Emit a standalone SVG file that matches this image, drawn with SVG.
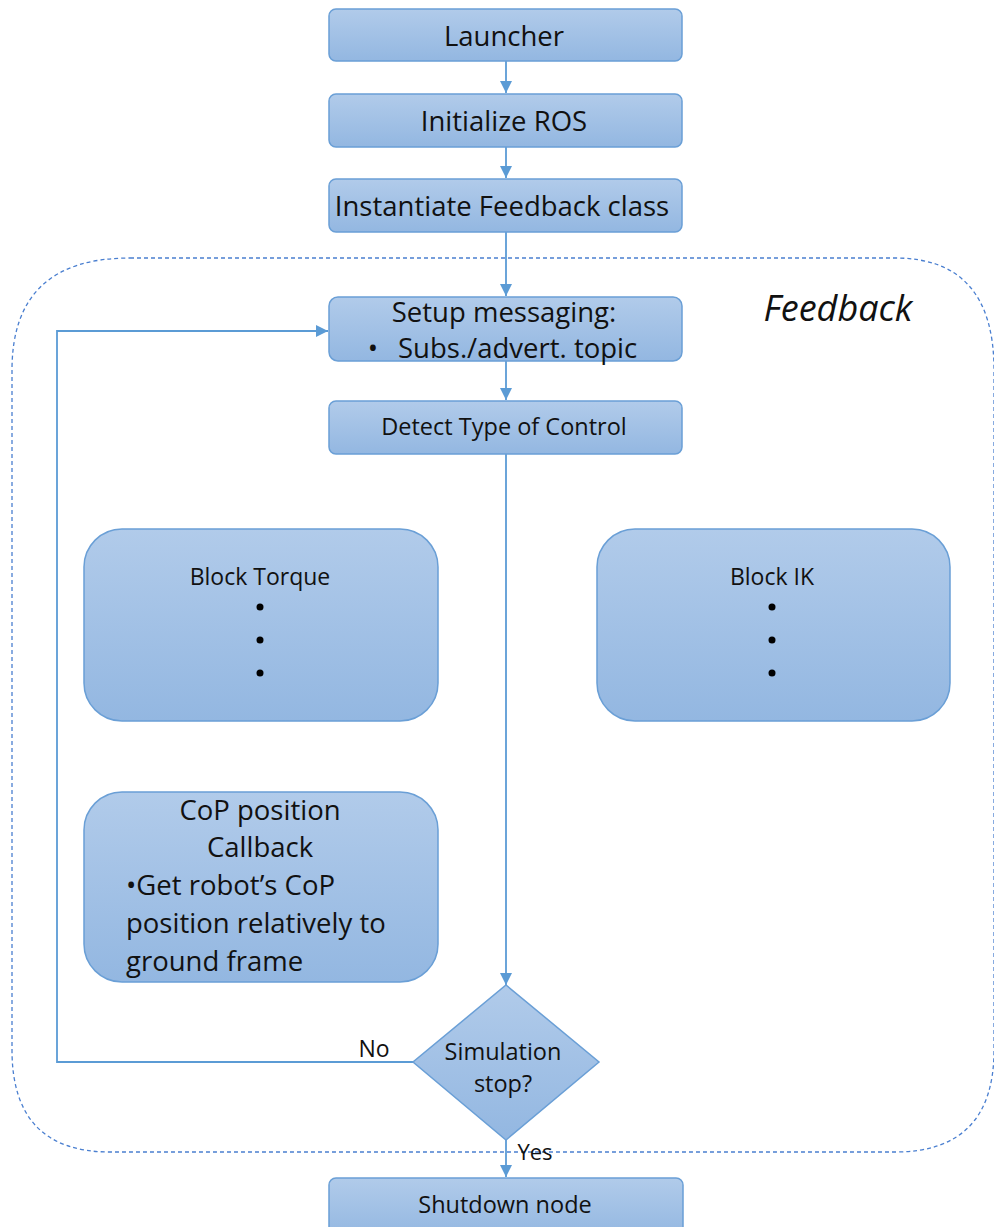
<svg xmlns="http://www.w3.org/2000/svg" width="994" height="1227" viewBox="0 0 994 1227">
<defs>
<linearGradient id="g" x1="0" y1="0" x2="0" y2="1">
<stop offset="0" stop-color="#b1cbea"/>
<stop offset="1" stop-color="#93b7e1"/>
</linearGradient>
<marker id="ah" markerWidth="12" markerHeight="12" refX="10" refY="5" orient="auto" markerUnits="userSpaceOnUse" viewBox="0 0 10 10">
<path d="M0,0 L10,5 L0,10 z" fill="#5b9bd5"/>
</marker>
<style>
.box{fill:url(#g);stroke:#6a9fd6;stroke-width:1.5}
.t{font-family:"Open Sans","Liberation Sans",sans-serif;fill:#111;text-anchor:middle}
.l{text-anchor:start}
.c{fill:none;stroke:#5b9bd5;stroke-width:1.8}
</style>
</defs>
<rect width="994" height="1227" fill="#fff"/>
<g id="feedback-region">
<path d="M130,258 H895 Q994,258 994,370 V1050 Q994,1152 895,1152 H110 Q12,1152 12,1050 V370 Q12,258 130,258 Z" fill="none" stroke="#4a7fd0" stroke-width="1.3" stroke-dasharray="4,3"/>
<text class="t" x="838" y="321" font-style="italic" font-size="36">Feedback</text>
</g>
<g id="connectors">
<line class="c" x1="506" y1="61" x2="506" y2="93" marker-end="url(#ah)"/>
<line class="c" x1="506" y1="147" x2="506" y2="178" marker-end="url(#ah)"/>
<line class="c" x1="506" y1="232" x2="506" y2="296" marker-end="url(#ah)"/>
<line class="c" x1="506" y1="361" x2="506" y2="400" marker-end="url(#ah)"/>
<line class="c" x1="506" y1="454" x2="506" y2="985" marker-end="url(#ah)"/>
<line class="c" x1="506" y1="1140" x2="506" y2="1177" marker-end="url(#ah)"/>
<polyline class="c" points="413,1062 57,1062 57,331 328,331" marker-end="url(#ah)"/>
<text class="t" x="374" y="1057" font-size="23">No</text>
<text class="t" x="535" y="1160" font-size="22">Yes</text>
</g>
<g id="launcher">
<rect class="box" x="329" y="9" width="353" height="52" rx="7"/>
<text class="t" x="504" y="46" font-size="27.5">Launcher</text>
</g>
<g id="init-ros">
<rect class="box" x="329" y="94" width="353" height="53" rx="7"/>
<text class="t" x="504" y="131" font-size="27.5">Initialize ROS</text>
</g>
<g id="instantiate">
<rect class="box" x="329" y="179" width="353" height="53" rx="7"/>
<text class="t" x="502" y="216" font-size="27.5">Instantiate Feedback class</text>
</g>
<g id="setup">
<rect class="box" x="329" y="297" width="353" height="64" rx="9"/>
<text class="t" x="504" y="322" font-size="27.5">Setup messaging:</text>
<text class="t" x="373" y="358" font-size="27.5">•</text>
<text class="t l" x="398" y="358" font-size="27.5">Subs./advert. topic</text>
</g>
<g id="detect">
<rect class="box" x="329" y="401" width="353" height="53" rx="7"/>
<text class="t" x="504" y="435" font-size="23.5">Detect Type of Control</text>
</g>
<g id="block-torque">
<rect class="box" x="84" y="529" width="354" height="192" rx="38"/>
<text class="t" x="260" y="585" font-size="23">Block Torque</text>
<circle cx="260" cy="607" r="3.5" fill="#000"/>
<circle cx="260" cy="640" r="3.5" fill="#000"/>
<circle cx="260" cy="673" r="3.5" fill="#000"/>
</g>
<g id="block-ik">
<rect class="box" x="597" y="529" width="353" height="192" rx="38"/>
<text class="t" x="772" y="585" font-size="23">Block IK</text>
<circle cx="772" cy="607" r="3.5" fill="#000"/>
<circle cx="772" cy="640" r="3.5" fill="#000"/>
<circle cx="772" cy="673" r="3.5" fill="#000"/>
</g>
<g id="cop-callback">
<rect class="box" x="84" y="792" width="354" height="190" rx="38"/>
<text class="t" x="260" y="820" font-size="27.5">CoP position</text>
<text class="t" x="260" y="857" font-size="27.5">Callback</text>
<text class="t l" x="126" y="895" font-size="27.5">•Get robot’s CoP</text>
<text class="t l" x="126" y="933" font-size="27.5">position relatively to</text>
<text class="t l" x="126" y="971" font-size="27.5">ground frame</text>
</g>
<g id="sim-stop">
<polygon points="506,985 599,1062 506,1140 413,1062" fill="url(#g)" stroke="#6a9fd6" stroke-width="1.5"/>
<text class="t" x="503" y="1060" font-size="23.5">Simulation</text>
<text class="t" x="503" y="1092" font-size="23.5">stop?</text>
</g>
<g id="shutdown">
<rect class="box" x="329" y="1178" width="354" height="60" rx="7"/>
<text class="t" x="505" y="1213" font-size="23.5">Shutdown node</text>
</g>
</svg>
